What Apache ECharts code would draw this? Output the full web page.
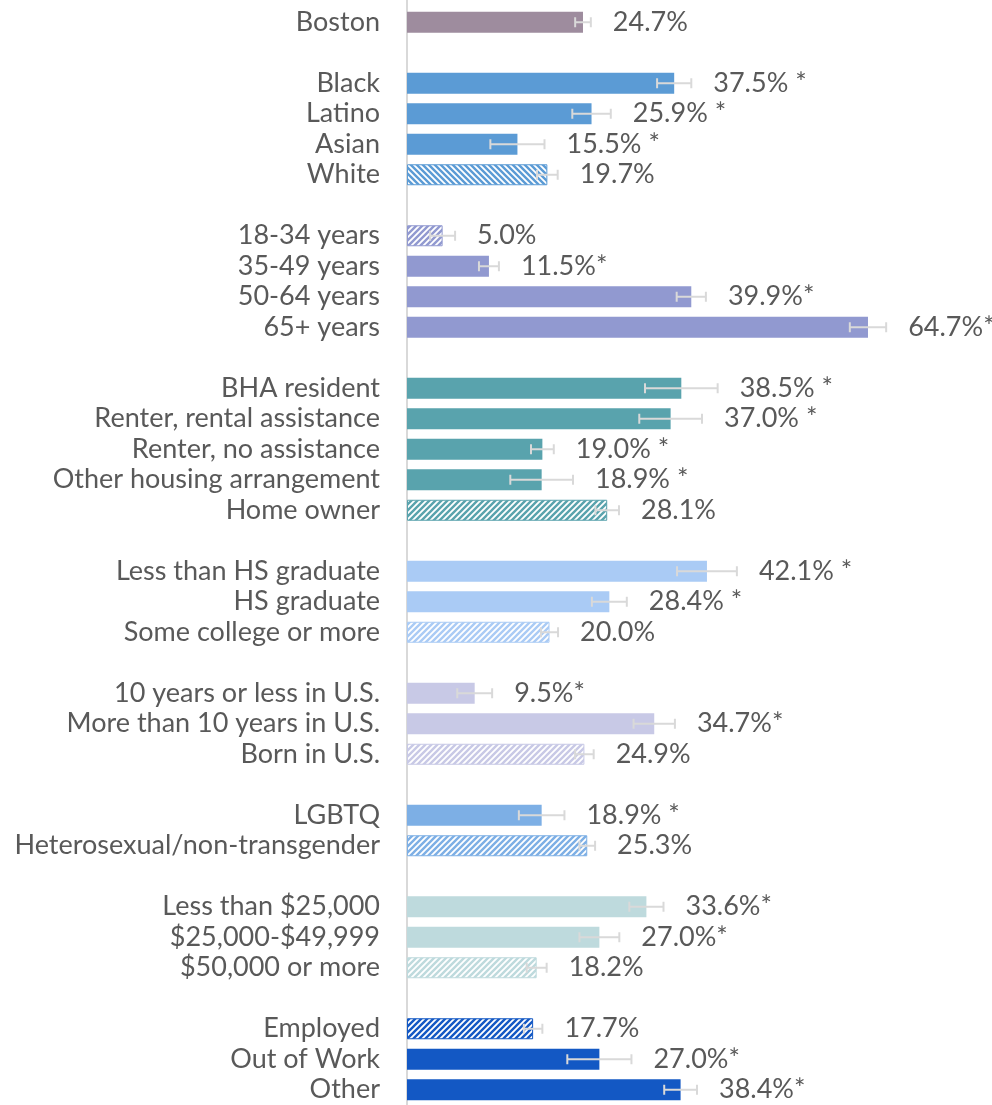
<!DOCTYPE html>
<html>
<head>
<meta charset="utf-8">
<script src="https://cdn.jsdelivr.net/npm/echarts@6/dist/echarts.min.js"></script>
<style>
html,body{margin:0;padding:0;background:#fff;}
#chart{width:992px;height:1105px;}
</style>
</head>
<body>
<div id="chart"></div>
<script>
// ---- data (blank strings are spacer rows between groups) ----
const categories = [
  'Boston', '',
  'Black', 'Latino', 'Asian', 'White', '',
  '18-34 years', '35-49 years', '50-64 years', '65+ years', '',
  'BHA resident', 'Renter, rental assistance', 'Renter, no assistance', 'Other housing arrangement', 'Home owner', '',
  'Less than HS graduate', 'HS graduate', 'Some college or more', '',
  '10 years or less in U.S.', 'More than 10 years in U.S.', 'Born in U.S.', '',
  'LGBTQ', 'Heterosexual/non-transgender', '',
  'Less than $25,000', '$25,000-$49,999', '$50,000 or more', '',
  'Employed', 'Out of Work', 'Other'
];
const values = [
  24.7, null,
  37.5, 25.9, 15.5, 19.7, null,
  5.0, 11.5, 39.9, 64.7, null,
  38.5, 37.0, 19.0, 18.9, 28.1, null,
  42.1, 28.4, 20.0, null,
  9.5, 34.7, 24.9, null,
  18.9, 25.3, null,
  33.6, 27.0, 18.2, null,
  17.7, 27.0, 38.4
];
const errors = [
  1.1, null,
  2.4, 2.7, 3.8, 1.45, null,
  1.75, 1.4, 2.05, 2.55, null,
  5.1, 4.4, 1.6, 4.4, 1.65, null,
  4.2, 2.45, 1.2, null,
  2.45, 2.9, 1.3, null,
  3.2, 1.1, null,
  2.4, 2.8, 1.4, null,
  1.3, 4.5, 2.3
];
const labels = [
  '24.7%', '',
  '37.5% *', '25.9% *', '15.5% *', '19.7%', '',
  '5.0%', '11.5%*', '39.9%*', '64.7%*', '',
  '38.5% *', '37.0% *', '19.0% *', '18.9% *', '28.1%', '',
  '42.1% *', '28.4% *', '20.0%', '',
  '9.5%*', '34.7%*', '24.9%', '',
  '18.9% *', '25.3%', '',
  '33.6%*', '27.0%*', '18.2%', '',
  '17.7%', '27.0%*', '38.4%*'
];
const referenceRows = ['White', '18-34 years', 'Home owner', 'Some college or more',
  'Born in U.S.', 'Heterosexual/non-transgender', '$50,000 or more', 'Employed'];

// ---- styles ----
const groupColors = ['#9E8C9E', '#5B9BD5', '#9199D0', '#59A3AD', '#AACBF5',
  '#C8C9E6', '#7DAFE5', '#BEDADD', '#1358C4'];
const FONT = 'Lato';
const TEXT = '#595959';
const ERR = '#D9D9D9';

function makePattern(color, back) {
  const p = 6;
  const c = document.createElement('canvas');
  c.width = p; c.height = p;
  const g = c.getContext('2d');
  g.fillStyle = '#ffffff';
  g.fillRect(0, 0, p, p);
  g.strokeStyle = color;
  g.lineWidth = 2.4;
  g.beginPath();
  if (back) {
    g.moveTo(0, 0); g.lineTo(p, p);
    g.moveTo(-p / 2, p / 2); g.lineTo(p / 2, p * 1.5);
    g.moveTo(p / 2, -p / 2); g.lineTo(p * 1.5, p / 2);
  } else {
    g.moveTo(0, p); g.lineTo(p, 0);
    g.moveTo(-p / 2, p / 2); g.lineTo(p / 2, -p / 2);
    g.moveTo(p / 2, p * 1.5); g.lineTo(p * 1.5, p / 2);
  }
  g.stroke();
  return c;
}

// group index per row (increments after each spacer row)
let grp = 0;
const barData = categories.map((cat, i) => {
  if (values[i] === null) { grp++; return null; }
  const color = groupColors[grp];
  if (referenceRows.indexOf(cat) >= 0) {
    return {
      value: values[i],
      itemStyle: {
        color: { image: makePattern(color, grp === 1), repeat: 'repeat' },
        borderColor: color, borderWidth: 1
      }
    };
  }
  return { value: values[i], itemStyle: { color: color } };
});

const errRows = [];
categories.forEach((cat, i) => {
  if (values[i] !== null) errRows.push({ idx: i, v: values[i], e: errors[i], t: labels[i] });
});

const chart = echarts.init(document.getElementById('chart'), null, { renderer: 'canvas' });
chart.setOption({
  animation: false,
  grid: { left: 407, top: 7, width: 570, height: 1100.2, containLabel: false },
  xAxis: { type: 'value', min: 0, max: 80, show: false },
  yAxis: {
    type: 'category',
    inverse: true,
    data: categories,
    axisLine: { show: true, lineStyle: { color: '#D9D9D9', width: 2 } },
    axisTick: { show: false },
    axisLabel: { color: TEXT, fontFamily: FONT, fontSize: 27, margin: 27, interval: 0 }
  },
  graphic: [{
    type: 'line', z: 0,
    shape: { x1: 407, y1: 0, x2: 407, y2: 8 },
    style: { stroke: '#D9D9D9', lineWidth: 2 }
  }],
  series: [
    {
      type: 'bar',
      data: barData,
      barWidth: 21,
      z: 2
    },
    {
      type: 'custom',
      z: 5,
      data: errRows.map(r => [r.v, r.idx, r.e]),
      encode: { x: 0, y: 1 },
      renderItem: function (params, api) {
        const r = errRows[params.dataIndex];
        const lo = api.coord([r.v - r.e, r.idx]);
        const hi = api.coord([r.v + r.e, r.idx]);
        const y = lo[1];
        const st = { stroke: ERR, lineWidth: 2 };
        return {
          type: 'group',
          children: [
            { type: 'line', shape: { x1: lo[0], y1: y, x2: hi[0], y2: y }, style: st },
            { type: 'line', shape: { x1: lo[0], y1: y - 5, x2: lo[0], y2: y + 5 }, style: st },
            { type: 'line', shape: { x1: hi[0], y1: y - 5, x2: hi[0], y2: y + 5 }, style: st },
            {
              type: 'text', x: hi[0] + 22, y: y,
              style: { text: r.t, fill: TEXT, font: '27px ' + FONT, align: 'left', verticalAlign: 'middle' }
            }
          ]
        };
      }
    }
  ]
});
</script>
</body>
</html>
